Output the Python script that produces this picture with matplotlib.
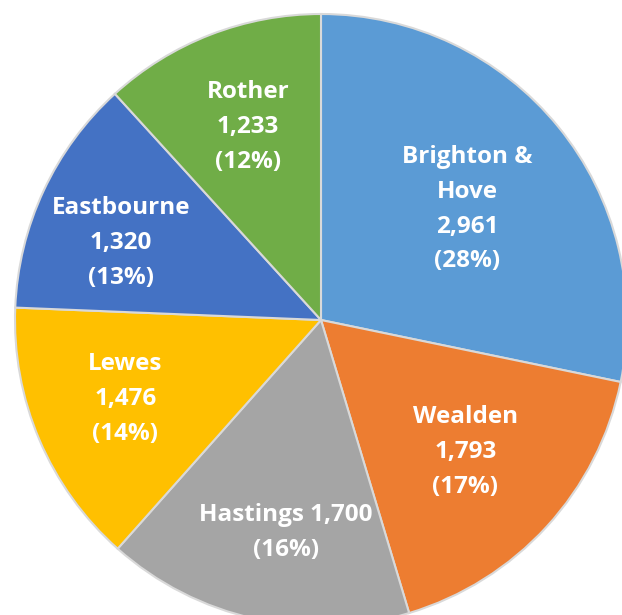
import matplotlib
matplotlib.use("Agg")
import matplotlib.pyplot as plt
import numpy as np

districts = ["Brighton &\nHove", "Wealden", "Hastings", "Lewes", "Eastbourne", "Rother"]
values = [2961, 1793, 1700, 1476, 1320, 1233]
colors = ["#5B9BD5", "#ED7D31", "#A5A5A5", "#FFC000", "#4472C4", "#70AD47"]
label_dist = [0.60, 0.64, 0.705, 0.69, 0.70, 0.675]
label_shift_deg = [-2.0, 0.0, 3.0, -1.0, 4.0, -0.5]  # counter-clockwise shift

total = sum(values)
labels = []
for name, v in zip(districts, values):
    pct = round(100 * v / total)
    if name == "Hastings":
        labels.append(f"{name} {v:,}\n({pct}%)")
    else:
        labels.append(f"{name}\n{v:,}\n({pct}%)")

W, H = 622, 615
fig = plt.figure(figsize=(W / 100, H / 100), dpi=100)
ax = fig.add_axes([0, 0, 1, 1])

cx, cy, R = 321, 320, 306
wedges, texts = ax.pie(values, colors=colors, startangle=90, counterclock=False,
                       labels=labels, labeldistance=1.0, radius=1.0,
                       wedgeprops=dict(edgecolor="#D9D9D9", linewidth=1.5))
for w, t, d, s in zip(wedges, texts, label_dist, label_shift_deg):
    mid = np.deg2rad((w.theta1 + w.theta2) / 2 + s)
    t.set_position((d * np.cos(mid), d * np.sin(mid)))
    t.set_ha("center")
    t.set_va("center")
    t.set_color("white")
    t.set_fontsize(17.5)
    t.set_fontweight("bold")
    t.set_family(["Open Sans", "DejaVu Sans"])
    t.set_linespacing(1.6)

ax.set_aspect("auto")
ax.set_xlim(-cx / R, (W - cx) / R)
ax.set_ylim(-(H - cy) / R, cy / R)
ax.axis("off")

fig.savefig("out.png", dpi=100)
